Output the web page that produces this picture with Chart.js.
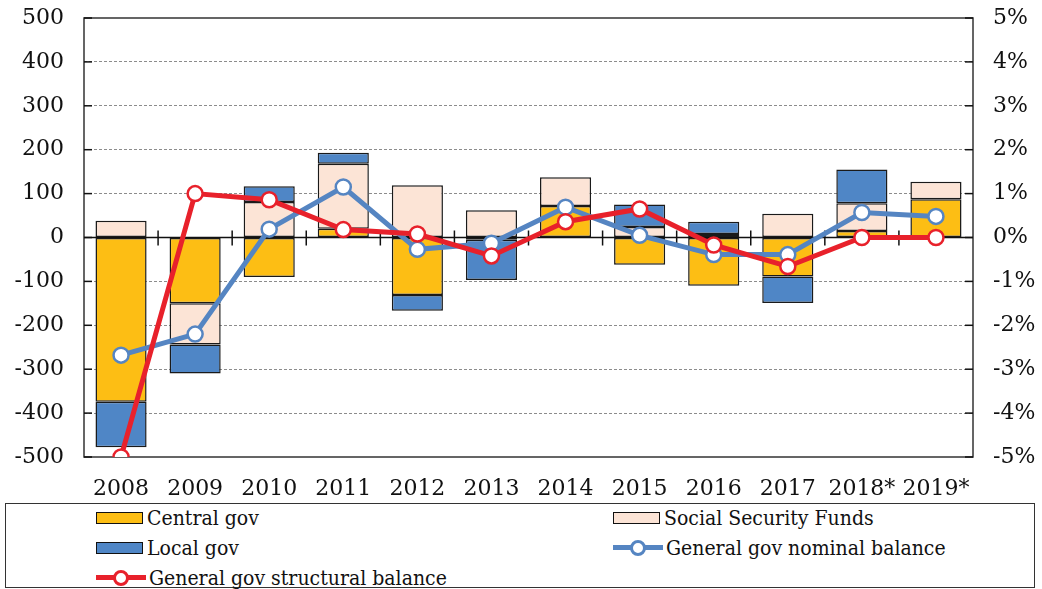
<!DOCTYPE html>
<html>
<head>
<meta charset="utf-8">
<script src="https://cdn.jsdelivr.net/npm/chart.js@4.4.1/dist/chart.umd.min.js"></script>
<style>
  html, body { margin: 0; padding: 0; background: #fff; }
  #wrap { position: relative; width: 1042px; height: 589px; overflow: hidden; }
  #c { position: absolute; left: 0; top: 0; }
  #legend { position: absolute; left: 5px; top: 503px; width: 1030px; height: 85px;
            border: 1.5px solid #333; box-sizing: border-box; }
  .item { position: absolute; height: 28px; display: flex; align-items: center;
          font-family: "DejaVu Serif Condensed", "DejaVu Serif", serif; font-size: 21px; color: #111; white-space: nowrap; }
  .sw { width: 47px; height: 12px; border: 1.5px solid #111; margin-right: 4px; box-sizing: border-box; }
  .ln { width: 50px; height: 16px; margin-right: 3px; position: relative; }
  .ln .bar { position: absolute; left: 0; right: 0; top: 5.5px; height: 5px; }
  .ln .dot { position: absolute; left: 17px; top: 0; width: 16px; height: 16px; border-radius: 50%;
             background: #fff; box-sizing: border-box; border: 3px solid; }
</style>
</head>
<body>
<div id="wrap">
  <canvas id="c" width="1042" height="500"></canvas>
  <div id="legend"></div>
</div>
<script>
const years = ['2008','2009','2010','2011','2012','2013','2014','2015','2016','2017','2018*','2019*'];
const centralGov = [-374, -150, -90, 20, -131, -5, 72, -62, -110, -89, 15, 87];
const socialSecurity = [38, -94, 81, 148, 119, 62, 65, 24, 8, 54, 63, 40];
const localGov = [-104, -66, 36, 25, -36, -92, 0, 51, 28, -60, 77, 0];
const nominalBalance = [-2.68, -2.2, 0.19, 1.15, -0.27, -0.13, 0.69, 0.05, -0.39, -0.39, 0.57, 0.48];
const structuralBalance = [-5.0, 1.0, 0.86, 0.18, 0.08, -0.42, 0.36, 0.65, -0.17, -0.66, 0.0, 0.0];
const leftTicks = [-500,-400,-300,-200,-100,0,100,200,300,400,500];
const rightTicks = ['-5%','-4%','-3%','-2%','-1%','0%','1%','2%','3%','4%','5%'];

const C_CENTRAL = '#FDBE14', C_SSF = '#FCE4D6', C_LOCAL = '#4F86C6', C_NOM = '#5585C2', C_STR = '#E8212B';
const FONT = '"DejaVu Serif", serif';

const framePlugin = {
  id: 'frame',
  beforeDatasetsDraw(chart) {
    const ctx = chart.ctx, a = chart.chartArea;
    const y = chart.scales.y;
    ctx.save();
    ctx.strokeStyle = '#333'; ctx.lineWidth = 1.5;
    ctx.strokeRect(a.left, a.top, a.right - a.left, a.bottom - a.top);
    ctx.lineWidth = 1.5; ctx.strokeStyle = '#111';
    leftTicks.forEach(v => {
      const py = y.getPixelForValue(v);
      ctx.beginPath(); ctx.moveTo(a.left, py); ctx.lineTo(a.left + 8, py); ctx.stroke();
      ctx.beginPath(); ctx.moveTo(a.right, py); ctx.lineTo(a.right - 8, py); ctx.stroke();
    });
    const y0 = y.getPixelForValue(0);
    ctx.strokeStyle = '#111'; ctx.lineWidth = 1.5;
    ctx.beginPath(); ctx.moveTo(a.left, y0); ctx.lineTo(a.right, y0); ctx.stroke();
    const w = (a.right - a.left) / years.length;
    for (let i = 1; i < years.length; i++) {
      const px = a.left + i * w;
      ctx.beginPath(); ctx.moveTo(px, y0 - 7); ctx.lineTo(px, y0 + 8); ctx.stroke();
    }
    ctx.restore();
  }
};

const ds = [
  { type: 'bar', label: 'Central gov', data: centralGov, backgroundColor: C_CENTRAL, yAxisID: 'y', stack: 's', order: 3 },
  { type: 'bar', label: 'Social Security Funds', data: socialSecurity, backgroundColor: C_SSF, yAxisID: 'y', stack: 's', order: 3 },
  { type: 'bar', label: 'Local gov', data: localGov, backgroundColor: C_LOCAL, yAxisID: 'y', stack: 's', order: 3 },
  { type: 'line', label: 'General gov nominal balance', data: nominalBalance, borderColor: C_NOM, yAxisID: 'y1', order: 2,
    borderWidth: 5, pointRadius: 7.5, pointBorderWidth: 2.5, pointBackgroundColor: '#fff', pointBorderColor: C_NOM, tension: 0 },
  { type: 'line', label: 'General gov structural balance', data: structuralBalance, borderColor: C_STR, yAxisID: 'y1', order: 1,
    borderWidth: 5, pointRadius: 7.5, pointBorderWidth: 2.5, pointBackgroundColor: '#fff', pointBorderColor: C_STR, tension: 0 }
];
ds.forEach(d => { if (d.type === 'bar') { d.borderColor = '#1a1a1a'; d.borderWidth = 1.5; d.borderSkipped = false; d.barPercentage = 0.69; d.categoryPercentage = 1.0; } });

new Chart(document.getElementById('c'), {
  data: { labels: years, datasets: ds },
  options: {
    responsive: false, animation: false, devicePixelRatio: 1,
    layout: { padding: { top: 18, left: 0, right: 0, bottom: 0 } },
    plugins: { legend: { display: false }, tooltip: { enabled: false } },
    scales: {
      x: {
        stacked: true,
        grid: { display: false, drawTicks: false },
        border: { display: false },
        ticks: { padding: 19, color: '#111', font: { family: FONT, size: 22 }, maxRotation: 0, autoSkip: false },
        afterFit: s => { s.height = 43; }
      },
      y: {
        stacked: true, position: 'left', min: -500, max: 500,
        afterBuildTicks: s => { s.ticks = leftTicks.map(v => ({ value: v })); },
        ticks: { padding: 20, color: '#111', font: { family: FONT, size: 22 } },
        grid: { drawTicks: false, lineWidth: 1, color: c => (c.tick && (c.tick.value === 0 || Math.abs(c.tick.value) === 500)) ? 'rgba(0,0,0,0)' : '#8c8c8c' },
        border: { display: false, dash: [3, 2] },
        afterFit: s => { s.width = 84; s.paddingTop = 0; s.paddingBottom = 0; }
      },
      y1: {
        position: 'right', min: -5, max: 5,
        afterBuildTicks: s => { s.ticks = rightTicks.map((t, i) => ({ value: i - 5 })); },
        ticks: { padding: 20, color: '#111', font: { family: FONT, size: 22 }, callback: (v, i) => rightTicks[i] },
        grid: { display: false, drawTicks: false },
        border: { display: false },
        afterFit: s => { s.width = 69; s.paddingTop = 0; s.paddingBottom = 0; }
      }
    }
  },
  plugins: [framePlugin]
});

const legendPos = [
  { ds: 0, left: 90, top: 4 }, { ds: 1, left: 607, top: 4 },
  { ds: 2, left: 90, top: 33.5 }, { ds: 3, left: 607, top: 33.5 },
  { ds: 4, left: 90, top: 63.5 }
];
const lg = document.getElementById('legend');
legendPos.forEach(p => {
  const d = ds[p.ds];
  const it = document.createElement('div'); it.className = 'item';
  it.style.left = p.left + 'px'; it.style.top = (p.top - 4) + 'px';
  if (d.type === 'bar') {
    const s = document.createElement('div'); s.className = 'sw'; s.style.background = d.backgroundColor; it.appendChild(s);
  } else {
    const s = document.createElement('div'); s.className = 'ln';
    s.innerHTML = '<div class="bar" style="background:' + d.borderColor + '"></div><div class="dot" style="border-color:' + d.borderColor + '"></div>';
    it.appendChild(s);
  }
  const t = document.createElement('span'); t.textContent = d.label; it.appendChild(t);
  lg.appendChild(it);
});
</script>
</body>
</html>
